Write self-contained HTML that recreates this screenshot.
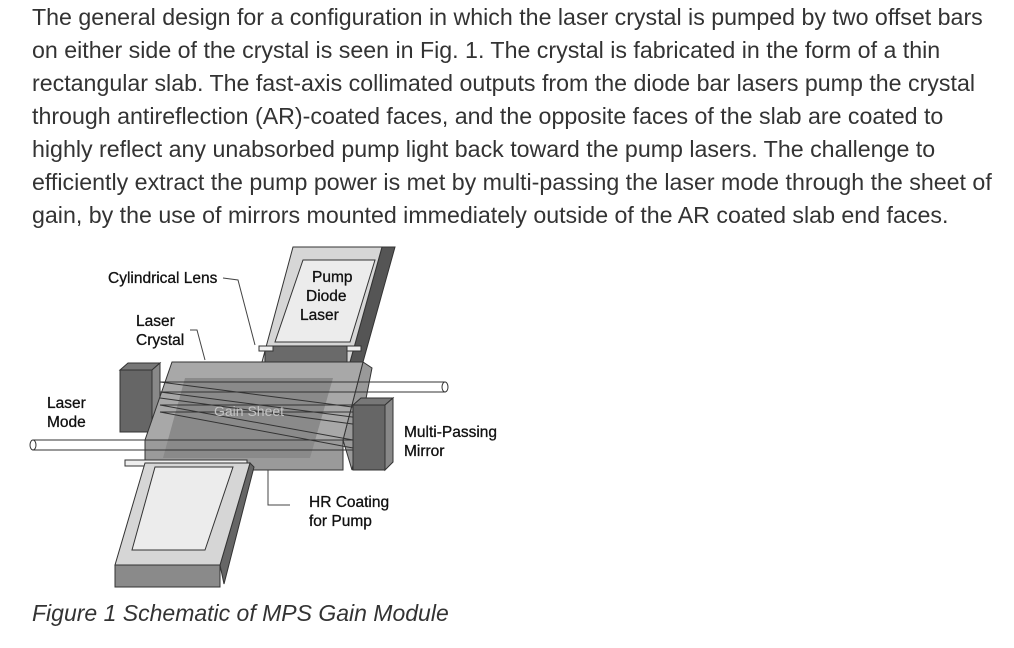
<!DOCTYPE html>
<html><head><meta charset="utf-8"><style>
html,body{margin:0;padding:0;background:#fff;width:1014px;height:648px;overflow:hidden}
.p{position:absolute;left:32px;font-family:"Liberation Sans",Arial,sans-serif;font-size:23.2px;color:#333;white-space:nowrap;line-height:33px}
.cap{position:absolute;left:32px;top:600px;font-family:"Liberation Sans",Arial,sans-serif;font-size:23px;font-style:italic;color:#333;white-space:nowrap}
svg{position:absolute;left:0;top:0}
svg text{font-family:"Liberation Sans",Arial,sans-serif;font-size:15.5px;fill:#111;stroke:#111;stroke-width:0.3}
</style></head><body>
<div class="p" style="top:1px">The general design for a configuration in which the laser crystal is pumped by two offset bars</div>
<div class="p" style="top:34px">on either side of the crystal is seen in Fig. 1. The crystal is fabricated in the form of a thin</div>
<div class="p" style="top:67px">rectangular slab. The fast-axis collimated outputs from the diode bar lasers pump the crystal</div>
<div class="p" style="top:100px">through antireflection (AR)-coated faces, and the opposite faces of the slab are coated to</div>
<div class="p" style="top:133px">highly reflect any unabsorbed pump light back toward the pump lasers. The challenge to</div>
<div class="p" style="top:166px">efficiently extract the pump power is met by multi-passing the laser mode through the sheet of</div>
<div class="p" style="top:199px">gain, by the use of mirrors mounted immediately outside of the AR coated slab end faces.</div>
<svg width="1014" height="648" viewBox="0 0 1014 648">
<g stroke="#333" stroke-width="1">
<!-- top pump diode -->
<polygon points="395,247 382,247 350,362 363,362" fill="#555"/>
<polygon points="293,247 382,247 350,362 262,362" fill="#d6d6d6"/>
<polygon points="303,260 375,260 350,342 275,342" fill="#ececec"/>
<rect x="265" y="346" width="82" height="16" fill="#6a6a6a"/>
<rect x="259" y="346" width="14" height="5" fill="#eee"/>
<rect x="347" y="346" width="14" height="5" fill="#eee"/>
<!-- left mirror -->
<polygon points="120,370 128,363 160,363 152,370" fill="#777"/>
<rect x="120" y="370" width="32" height="62" fill="#666"/>
<polygon points="152,370 160,363 160,425 152,432" fill="#888"/>
<!-- crystal -->
<polygon points="363,362 372,368 352,470 343,440" fill="#999"/>
<polygon points="172,362 363,362 343,440 145,440" fill="#a8a8a8"/>
<rect x="145" y="440" width="198" height="30" fill="#9a9a9a"/>
<polygon points="185,378 333,378 310,458 163,458" fill="#8a8a8a" stroke="none"/>
<!-- rods -->
<rect x="160" y="382" width="285" height="10" fill="none"/>
<ellipse cx="445" cy="387" rx="3" ry="5" fill="#fff"/>
<rect x="33" y="440" width="320" height="10" fill="none"/>
<ellipse cx="33" cy="445" rx="3" ry="5" fill="#fff"/>
<g fill="none">
<line x1="160" y1="382" x2="360" y2="408"/><line x1="160" y1="392" x2="360" y2="418"/>
<line x1="160" y1="405" x2="353" y2="405"/><line x1="160" y1="412" x2="353" y2="412"/>
<line x1="160" y1="405" x2="353" y2="440"/><line x1="160" y1="412" x2="353" y2="448"/>
<line x1="160" y1="398" x2="360" y2="425"/>
</g>
<!-- right mirror -->
<polygon points="353,405 361,398 393,398 385,405" fill="#777"/>
<rect x="353" y="405" width="32" height="65" fill="#666"/>
<polygon points="385,405 393,398 393,462 385,470" fill="#888"/>
<!-- bottom pump -->
<rect x="125" y="460" width="122" height="6" fill="#eee"/>
<polygon points="250,463 254,467 224,584 220,565" fill="#666"/>
<polygon points="145,463 250,463 220,565 115,565" fill="#d6d6d6"/>
<polygon points="155,467 233,467 205,550 132,550" fill="#ececec"/>
<rect x="115" y="565" width="105" height="22" fill="#8a8a8a"/>
</g>
<text x="214" y="416" style="fill:#c4c4c4;stroke:none;font-size:14px">Gain Sheet</text>
<g fill="none" stroke="#444" stroke-width="1">
<path d="M223,278 L238,280 L255,345"/>
<path d="M190,330 L197,330 L205,360"/>
<path d="M268,470 L268,505 L290,505"/>
</g>
<text x="108" y="283">Cylindrical Lens</text>
<text x="136" y="326">Laser</text>
<text x="136" y="345">Crystal</text>
<text x="312" y="282">Pump</text>
<text x="306" y="301">Diode</text>
<text x="300" y="320">Laser</text>
<text x="47" y="408">Laser</text>
<text x="47" y="427">Mode</text>
<text x="404" y="437">Multi-Passing</text>
<text x="404" y="456">Mirror</text>
<text x="309" y="507">HR Coating</text>
<text x="309" y="526">for Pump</text>
</svg>
<div class="cap">Figure 1 Schematic of MPS Gain Module</div>
</body></html>
